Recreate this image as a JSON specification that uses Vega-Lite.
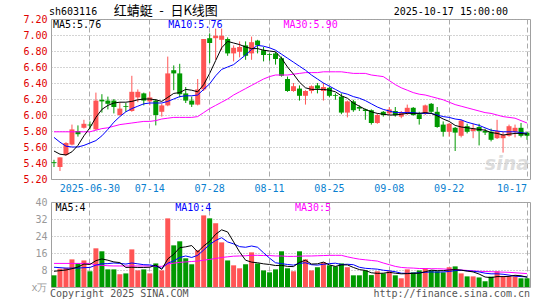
{
"$schema": "https://vega.github.io/schema/vega-lite/v6.json",
"background": "white",
"padding": {"left": 22, "top": 4, "right": 4, "bottom": 2},
"bounds": "flush",
"spacing": 23,
"config": {
  "view": {"stroke": "#a0a0a0", "strokeWidth": 1},
  "font": "DejaVu Sans Mono",
  "axis": {"labelFont": "DejaVu Sans Mono", "labelFontSize": 10, "ticks": false, "domain": false}
},
"datasets": {"k": [
{"d":"2025-06-20","o":5.41,"h":5.44,"l":5.35,"c":5.40,"v":5.5,"m5":5.55,"m10":5.72,"m30":5.79,"vm5":7.4,"vm10":9.3,"vm30":11.1},
{"d":"2025-06-23","o":5.35,"h":5.47,"l":5.30,"c":5.47,"v":8.6,"m5":5.51,"m10":5.66,"m30":5.79,"vm5":7.7,"vm10":9.1,"vm30":11.1},
{"d":"2025-06-24","o":5.50,"h":5.66,"l":5.49,"c":5.65,"v":9.0,"m5":5.50,"m10":5.61,"m30":5.79,"vm5":8.0,"vm10":8.9,"vm30":11.1},
{"d":"2025-06-25","o":5.63,"h":5.88,"l":5.62,"c":5.82,"v":13.0,"m5":5.54,"m10":5.60,"m30":5.79,"vm5":8.6,"vm10":8.9,"vm30":11.1},
{"d":"2025-06-26","o":5.80,"h":5.87,"l":5.73,"c":5.76,"v":11.1,"m5":5.62,"m10":5.60,"m30":5.79,"vm5":9.4,"vm10":8.9,"vm30":11.1},
{"d":"2025-06-27","o":5.84,"h":5.94,"l":5.83,"c":5.89,"v":12.5,"m5":5.74,"m10":5.62,"m30":5.79,"vm5":10.8,"vm10":9.1,"vm30":11.1},
{"d":"2025-06-30","o":5.88,"h":5.92,"l":5.82,"c":5.87,"v":7.4,"m5":5.84,"m10":5.65,"m30":5.79,"vm5":10.6,"vm10":9.2,"vm30":11.1},
{"d":"2025-07-01","o":5.82,"h":6.28,"l":5.81,"c":6.18,"v":18.2,"m5":5.97,"m10":5.68,"m30":5.81,"vm5":12.4,"vm10":10.3,"vm30":10.4},
{"d":"2025-07-02","o":6.19,"h":6.26,"l":6.03,"c":6.17,"v":16.8,"m5":6.07,"m10":5.74,"m30":5.83,"vm5":13.2,"vm10":10.9,"vm30":10.2},
{"d":"2025-07-03","o":6.18,"h":6.23,"l":6.07,"c":6.14,"v":8.3,"m5":6.12,"m10":5.82,"m30":5.84,"vm5":12.6,"vm10":11.0,"vm30":10.0},
{"d":"2025-07-04","o":6.18,"h":6.20,"l":6.02,"c":6.10,"v":8.3,"m5":6.15,"m10":5.91,"m30":5.86,"vm5":11.8,"vm10":11.3,"vm30":9.9},
{"d":"2025-07-07","o":6.00,"h":6.16,"l":5.99,"c":6.08,"v":6.0,"m5":6.16,"m10":5.98,"m30":5.88,"vm5":11.5,"vm10":11.1,"vm30":9.9},
{"d":"2025-07-08","o":6.11,"h":6.15,"l":6.04,"c":6.10,"v":6.4,"m5":6.16,"m10":6.04,"m30":5.89,"vm5":9.2,"vm10":10.8,"vm30":9.9},
{"d":"2025-07-09","o":6.05,"h":6.49,"l":6.04,"c":6.29,"v":17.7,"m5":6.17,"m10":6.08,"m30":5.90,"vm5":9.3,"vm10":11.3,"vm30":9.9},
{"d":"2025-07-10","o":6.22,"h":6.32,"l":6.16,"c":6.29,"v":7.8,"m5":6.19,"m10":6.11,"m30":5.91,"vm5":9.2,"vm10":10.9,"vm30":9.9},
{"d":"2025-07-11","o":6.27,"h":6.28,"l":6.12,"c":6.18,"v":8.3,"m5":6.20,"m10":6.14,"m30":5.92,"vm5":9.2,"vm10":10.5,"vm30":9.9},
{"d":"2025-07-14","o":6.17,"h":6.29,"l":6.12,"c":6.22,"v":6.4,"m5":6.20,"m10":6.15,"m30":5.92,"vm5":9.3,"vm10":10.4,"vm30":9.9},
{"d":"2025-07-15","o":6.18,"h":6.20,"l":5.87,"c":6.00,"v":11.1,"m5":6.19,"m10":6.15,"m30":5.93,"vm5":10.3,"vm10":9.8,"vm30":9.8},
{"d":"2025-07-16","o":6.04,"h":6.14,"l":5.98,"c":6.12,"v":7.8,"m5":6.17,"m10":6.15,"m30":5.95,"vm5":8.3,"vm10":8.8,"vm30":9.7},
{"d":"2025-07-17","o":6.12,"h":6.73,"l":6.11,"c":6.52,"v":32.3,"m5":6.22,"m10":6.17,"m30":5.96,"vm5":13.2,"vm10":11.2,"vm30":10.8},
{"d":"2025-07-18","o":6.56,"h":6.62,"l":6.31,"c":6.52,"v":19.6,"m5":6.27,"m10":6.20,"m30":5.97,"vm5":15.4,"vm10":12.3,"vm30":11.2},
{"d":"2025-07-21","o":6.52,"h":6.64,"l":6.22,"c":6.26,"v":21.5,"m5":6.28,"m10":6.23,"m30":5.97,"vm5":18.5,"vm10":13.9,"vm30":11.6},
{"d":"2025-07-22","o":6.27,"h":6.35,"l":6.15,"c":6.18,"v":13.5,"m5":6.32,"m10":6.24,"m30":5.97,"vm5":18.9,"vm10":14.6,"vm30":11.8},
{"d":"2025-07-23","o":6.18,"h":6.23,"l":6.10,"c":6.13,"v":10.7,"m5":6.31,"m10":6.24,"m30":5.97,"vm5":19.5,"vm10":13.9,"vm30":12.0},
{"d":"2025-07-24","o":6.13,"h":6.45,"l":6.12,"c":6.32,"v":17.3,"m5":6.29,"m10":6.25,"m30":5.98,"vm5":16.5,"vm10":14.9,"vm30":12.2},
{"d":"2025-07-25","o":6.32,"h":6.95,"l":6.30,"c":6.95,"v":33.7,"m5":6.38,"m10":6.32,"m30":6.03,"vm5":19.3,"vm10":17.4,"vm30":12.6},
{"d":"2025-07-28","o":6.96,"h":7.02,"l":6.65,"c":6.90,"v":32.3,"m5":6.52,"m10":6.39,"m30":6.08,"vm5":21.5,"vm10":20.0,"vm30":13.0},
{"d":"2025-07-29","o":6.96,"h":7.08,"l":6.69,"c":6.99,"v":30.0,"m5":6.68,"m10":6.49,"m30":6.12,"vm5":24.8,"vm10":21.9,"vm30":13.4},
{"d":"2025-07-30","o":6.94,"h":7.08,"l":6.81,"c":6.99,"v":21.0,"m5":6.84,"m10":6.57,"m30":6.16,"vm5":26.9,"vm10":23.2,"vm30":13.9},
{"d":"2025-07-31","o":6.95,"h":6.97,"l":6.74,"c":6.77,"v":12.5,"m5":6.92,"m10":6.60,"m30":6.20,"vm5":25.9,"vm10":21.2,"vm30":14.2},
{"d":"2025-08-01","o":6.77,"h":6.87,"l":6.67,"c":6.84,"v":10.2,"m5":6.90,"m10":6.63,"m30":6.25,"vm5":21.2,"vm10":20.3,"vm30":14.5},
{"d":"2025-08-04","o":6.79,"h":6.92,"l":6.72,"c":6.85,"v":8.8,"m5":6.88,"m10":6.69,"m30":6.29,"vm5":16.5,"vm10":19.0,"vm30":14.6},
{"d":"2025-08-05","o":6.87,"h":6.92,"l":6.69,"c":6.74,"v":10.7,"m5":6.85,"m10":6.75,"m30":6.33,"vm5":12.6,"vm10":18.7,"vm30":14.7},
{"d":"2025-08-06","o":6.77,"h":6.98,"l":6.69,"c":6.91,"v":16.3,"m5":6.83,"m10":6.82,"m30":6.37,"vm5":11.7,"vm10":19.3,"vm30":14.9},
{"d":"2025-08-07","o":6.93,"h":6.94,"l":6.77,"c":6.87,"v":11.1,"m5":6.83,"m10":6.87,"m30":6.41,"vm5":11.4,"vm10":18.7,"vm30":14.9},
{"d":"2025-08-08","o":6.81,"h":6.85,"l":6.67,"c":6.75,"v":7.8,"m5":6.81,"m10":6.86,"m30":6.45,"vm5":10.9,"vm10":16.1,"vm30":14.8},
{"d":"2025-08-11","o":6.76,"h":6.77,"l":6.68,"c":6.75,"v":6.9,"m5":6.80,"m10":6.84,"m30":6.48,"vm5":10.6,"vm10":13.6,"vm30":14.8},
{"d":"2025-08-12","o":6.77,"h":6.79,"l":6.63,"c":6.70,"v":8.3,"m5":6.79,"m10":6.81,"m30":6.50,"vm5":10.1,"vm10":11.4,"vm30":14.6},
{"d":"2025-08-13","o":6.71,"h":6.73,"l":6.48,"c":6.49,"v":16.8,"m5":6.71,"m10":6.76,"m30":6.50,"vm5":10.2,"vm10":11.0,"vm30":14.6},
{"d":"2025-08-14","o":6.45,"h":6.48,"l":6.29,"c":6.30,"v":8.8,"m5":6.60,"m10":6.71,"m30":6.50,"vm5":9.7,"vm10":10.6,"vm30":14.4},
{"d":"2025-08-15","o":6.30,"h":6.40,"l":6.29,"c":6.36,"v":7.4,"m5":6.51,"m10":6.66,"m30":6.51,"vm5":9.6,"vm10":10.3,"vm30":14.4},
{"d":"2025-08-18","o":6.33,"h":6.37,"l":6.18,"c":6.24,"v":16.8,"m5":6.41,"m10":6.61,"m30":6.52,"vm5":11.6,"vm10":11.1,"vm30":14.5},
{"d":"2025-08-19","o":6.24,"h":6.31,"l":6.13,"c":6.30,"v":13.0,"m5":6.34,"m10":6.56,"m30":6.53,"vm5":12.6,"vm10":11.4,"vm30":14.6},
{"d":"2025-08-20","o":6.30,"h":6.37,"l":6.27,"c":6.36,"v":7.8,"m5":6.32,"m10":6.50,"m30":6.53,"vm5":10.8,"vm10":10.5,"vm30":14.6},
{"d":"2025-08-21","o":6.37,"h":6.40,"l":6.27,"c":6.33,"v":9.3,"m5":6.32,"m10":6.45,"m30":6.53,"vm5":10.9,"vm10":10.3,"vm30":14.7},
{"d":"2025-08-22","o":6.30,"h":6.40,"l":6.18,"c":6.35,"v":11.6,"m5":6.32,"m10":6.40,"m30":6.54,"vm5":11.7,"vm10":10.7,"vm30":14.8},
{"d":"2025-08-25","o":6.34,"h":6.35,"l":6.22,"c":6.24,"v":10.2,"m5":6.31,"m10":6.36,"m30":6.54,"vm5":10.4,"vm10":11.0,"vm30":14.9},
{"d":"2025-08-26","o":6.25,"h":6.27,"l":6.19,"c":6.24,"v":9.7,"m5":6.29,"m10":6.32,"m30":6.54,"vm5":9.7,"vm10":11.2,"vm30":14.9},
{"d":"2025-08-27","o":6.23,"h":6.27,"l":6.01,"c":6.03,"v":11.1,"m5":6.24,"m10":6.28,"m30":6.54,"vm5":10.4,"vm10":10.6,"vm30":14.9},
{"d":"2025-08-28","o":6.03,"h":6.18,"l":5.97,"c":6.17,"v":9.3,"m5":6.21,"m10":6.26,"m30":6.53,"vm5":10.4,"vm10":10.7,"vm30":14.2},
{"d":"2025-08-29","o":6.17,"h":6.19,"l":6.04,"c":6.06,"v":5.5,"m5":6.15,"m10":6.23,"m30":6.52,"vm5":9.2,"vm10":10.5,"vm30":13.6},
{"d":"2025-09-01","o":6.10,"h":6.12,"l":6.05,"c":6.08,"v":5.5,"m5":6.11,"m10":6.21,"m30":6.52,"vm5":8.2,"vm10":9.3,"vm30":13.1},
{"d":"2025-09-02","o":6.07,"h":6.08,"l":5.94,"c":6.05,"v":7.8,"m5":6.07,"m10":6.18,"m30":6.52,"vm5":7.8,"vm10":8.8,"vm30":12.8},
{"d":"2025-09-03","o":6.06,"h":6.07,"l":5.88,"c":5.90,"v":5.6,"m5":6.04,"m10":6.14,"m30":6.50,"vm5":6.7,"vm10":8.6,"vm30":12.5},
{"d":"2025-09-04","o":5.90,"h":6.02,"l":5.89,"c":6.00,"v":7.4,"m5":6.02,"m10":6.10,"m30":6.49,"vm5":6.4,"vm10":8.4,"vm30":12.2},
{"d":"2025-09-05","o":6.04,"h":6.05,"l":5.98,"c":6.00,"v":6.4,"m5":6.01,"m10":6.07,"m30":6.48,"vm5":6.5,"vm10":7.9,"vm30":11.3},
{"d":"2025-09-08","o":6.02,"h":6.10,"l":6.00,"c":6.07,"v":7.4,"m5":6.00,"m10":6.05,"m30":6.43,"vm5":6.9,"vm10":7.6,"vm30":10.5},
{"d":"2025-09-09","o":6.05,"h":6.10,"l":5.98,"c":6.00,"v":5.5,"m5":6.00,"m10":6.03,"m30":6.38,"vm5":6.5,"vm10":7.2,"vm30":9.7},
{"d":"2025-09-10","o":5.98,"h":6.05,"l":5.96,"c":6.03,"v":4.1,"m5":6.01,"m10":6.03,"m30":6.34,"vm5":6.2,"vm10":6.5,"vm30":9.2},
{"d":"2025-09-11","o":6.02,"h":6.13,"l":6.00,"c":6.09,"v":8.3,"m5":6.02,"m10":6.03,"m30":6.31,"vm5":6.3,"vm10":6.4,"vm30":9.0},
{"d":"2025-09-12","o":6.09,"h":6.10,"l":5.99,"c":6.00,"v":6.9,"m5":6.02,"m10":6.03,"m30":6.28,"vm5":6.4,"vm10":6.5,"vm30":8.9},
{"d":"2025-09-15","o":6.01,"h":6.04,"l":5.88,"c":5.95,"v":7.8,"m5":6.02,"m10":6.02,"m30":6.26,"vm5":6.5,"vm10":6.7,"vm30":8.7},
{"d":"2025-09-16","o":6.02,"h":6.13,"l":6.00,"c":6.12,"v":8.8,"m5":6.03,"m10":6.02,"m30":6.25,"vm5":7.2,"vm10":6.9,"vm30":8.7},
{"d":"2025-09-17","o":6.14,"h":6.15,"l":6.02,"c":6.04,"v":7.8,"m5":6.02,"m10":6.02,"m30":6.23,"vm5":7.9,"vm10":7.1,"vm30":8.6},
{"d":"2025-09-18","o":6.04,"h":6.10,"l":5.84,"c":5.85,"v":7.4,"m5":5.99,"m10":6.00,"m30":6.21,"vm5":7.7,"vm10":7.0,"vm30":8.6},
{"d":"2025-09-19","o":5.88,"h":5.92,"l":5.73,"c":5.79,"v":6.9,"m5":5.95,"m10":5.98,"m30":6.19,"vm5":7.7,"vm10":7.1,"vm30":8.5},
{"d":"2025-09-22","o":5.79,"h":5.90,"l":5.73,"c":5.89,"v":9.3,"m5":5.92,"m10":5.97,"m30":6.16,"vm5":8.0,"vm10":7.3,"vm30":8.3},
{"d":"2025-09-23","o":5.84,"h":5.85,"l":5.55,"c":5.78,"v":9.7,"m5":5.87,"m10":5.95,"m30":6.13,"vm5":8.2,"vm10":7.7,"vm30":8.2},
{"d":"2025-09-24","o":5.74,"h":5.94,"l":5.72,"c":5.93,"v":6.4,"m5":5.85,"m10":5.94,"m30":6.11,"vm5":7.9,"vm10":7.9,"vm30":8.0},
{"d":"2025-09-25","o":5.86,"h":5.89,"l":5.77,"c":5.79,"v":5.0,"m5":5.84,"m10":5.91,"m30":6.09,"vm5":7.5,"vm10":7.6,"vm30":7.8},
{"d":"2025-09-26","o":5.80,"h":5.89,"l":5.71,"c":5.83,"v":5.0,"m5":5.83,"m10":5.89,"m30":6.07,"vm5":7.1,"vm10":7.4,"vm30":7.6},
{"d":"2025-09-29","o":5.85,"h":5.89,"l":5.62,"c":5.80,"v":4.5,"m5":5.82,"m10":5.87,"m30":6.05,"vm5":6.1,"vm10":7.1,"vm30":7.4},
{"d":"2025-09-30","o":5.80,"h":5.83,"l":5.75,"c":5.78,"v":2.7,"m5":5.81,"m10":5.84,"m30":6.03,"vm5":4.7,"vm10":6.5,"vm30":7.3},
{"d":"2025-10-09","o":5.79,"h":5.83,"l":5.67,"c":5.69,"v":4.9,"m5":5.78,"m10":5.81,"m30":6.02,"vm5":4.4,"vm10":6.2,"vm30":7.2},
{"d":"2025-10-10","o":5.71,"h":5.94,"l":5.70,"c":5.80,"v":7.4,"m5":5.77,"m10":5.80,"m30":6.00,"vm5":4.9,"vm10":6.2,"vm30":7.1},
{"d":"2025-10-13","o":5.71,"h":5.79,"l":5.53,"c":5.75,"v":5.0,"m5":5.75,"m10":5.79,"m30":5.98,"vm5":4.9,"vm10":6.0,"vm30":7.0},
{"d":"2025-10-14","o":5.74,"h":5.88,"l":5.73,"c":5.86,"v":5.0,"m5":5.76,"m10":5.79,"m30":5.97,"vm5":5.0,"vm10":5.6,"vm30":6.9},
{"d":"2025-10-15","o":5.79,"h":5.88,"l":5.72,"c":5.84,"v":5.0,"m5":5.77,"m10":5.79,"m30":5.96,"vm5":5.5,"vm10":5.1,"vm30":6.7},
{"d":"2025-10-16","o":5.84,"h":5.90,"l":5.72,"c":5.74,"v":4.1,"m5":5.77,"m10":5.78,"m30":5.93,"vm5":5.3,"vm10":4.9,"vm30":6.5},
{"d":"2025-10-17","o":5.78,"h":5.79,"l":5.69,"c":5.74,"v":4.1,"m5":5.76,"m10":5.77,"m30":5.90,"vm5":4.6,"vm10":4.8,"vm30":6.3}
]},
"vconcat": [
{
  "width": 479, "height": 160,
  "data": {"name": "k"},
  "encoding": {
    "x": {"field": "d", "type": "ordinal", "title": null,
      "scale": {"paddingInner": 0, "paddingOuter": 0},
      "axis": {"values": ["2025-06-30","2025-07-14","2025-07-28","2025-08-11","2025-08-25","2025-09-08","2025-09-22","2025-10-17"],
        "labelExpr": "datum.value == '2025-06-30' ? datum.value : substring(datum.value, 5)",
        "labelColor": "#0a7fd0", "labelPadding": 4, "labelAngle": 0,
        "labelAlign": {"condition": {"test": "datum.value == '2025-10-17'", "value": "right"}, "value": "center"},
        "grid": true, "gridColor": "#aaaaaa", "gridDash": [5, 3], "labelOverlap": false}}
  },
  "layer": [
    {"mark": {"type": "rule", "strokeWidth": 1},
     "encoding": {
       "y": {"field": "l", "type": "quantitative", "title": null,
         "scale": {"domain": [5.2, 7.2], "nice": false, "zero": false},
         "axis": {"values": [5.2,5.4,5.6,5.8,6.0,6.2,6.4,6.6,6.8,7.0,7.2], "format": ".2f", "labelColor": "#e00000", "labelPadding": 4, "grid": true, "gridColor": "#a8a8a8", "gridDash": [1, 2], "labelOverlap": false}},
       "y2": {"field": "h"},
       "color": {"condition": {"test": "datum.c >= datum.o", "value": "#ff5555"}, "value": "#009900"}
     }},
    {"mark": {"type": "bar", "size": 5},
     "encoding": {
       "y": {"field": "o", "type": "quantitative", "title": null,
         "axis": {"values": [5.2,5.4,5.6,5.8,6.0,6.2,6.4,6.6,6.8,7.0,7.2], "format": ".2f", "labelColor": "#e00000", "labelPadding": 4, "grid": true, "gridColor": "#a8a8a8", "gridDash": [1, 2], "labelOverlap": false}},
       "y2": {"field": "c"},
       "color": {"condition": {"test": "datum.c >= datum.o", "value": "#ff5555"}, "value": "#009900"}
     }},
    {"mark": {"type": "line", "strokeWidth": 1, "color": "#ff00ff"}, "encoding": {"y": {"field": "m30", "type": "quantitative", "title": null,
         "axis": {"values": [5.2,5.4,5.6,5.8,6.0,6.2,6.4,6.6,6.8,7.0,7.2], "format": ".2f", "labelColor": "#e00000", "labelPadding": 4, "grid": true, "gridColor": "#a8a8a8", "gridDash": [1, 2], "labelOverlap": false}}}},
    {"mark": {"type": "line", "strokeWidth": 1, "color": "#0000ff"}, "encoding": {"y": {"field": "m10", "type": "quantitative", "title": null,
         "axis": {"values": [5.2,5.4,5.6,5.8,6.0,6.2,6.4,6.6,6.8,7.0,7.2], "format": ".2f", "labelColor": "#e00000", "labelPadding": 4, "grid": true, "gridColor": "#a8a8a8", "gridDash": [1, 2], "labelOverlap": false}}}},
    {"mark": {"type": "line", "strokeWidth": 1, "color": "#000000"}, "encoding": {"y": {"field": "m5", "type": "quantitative", "title": null,
         "axis": {"values": [5.2,5.4,5.6,5.8,6.0,6.2,6.4,6.6,6.8,7.0,7.2], "format": ".2f", "labelColor": "#e00000", "labelPadding": 4, "grid": true, "gridColor": "#a8a8a8", "gridDash": [1, 2], "labelOverlap": false}}}},
    {"data": {"values": [{"t": "sina", "y": 5.4, "d": "2025-10-17"}]},
     "mark": {"type": "text", "font": "DejaVu Sans", "fontSize": 19, "fontStyle": "italic", "fontWeight": "bold", "color": "#c8c8c8", "opacity": 0.6, "align": "right", "baseline": "middle", "dx": 2, "dy": 1},
     "encoding": {"text": {"field": "t"}, "x": {"field": "d", "type": "ordinal"}, "y": {"field": "y", "type": "quantitative", "title": null,
         "axis": {"values": [5.2,5.4,5.6,5.8,6.0,6.2,6.4,6.6,6.8,7.0,7.2], "format": ".2f", "labelColor": "#e00000", "labelPadding": 4, "grid": true, "gridColor": "#a8a8a8", "gridDash": [1, 2], "labelOverlap": false}}}},
    {"data": {"values": [{"t": "sh603116", "y": 7.2, "d": "2025-06-20"}]},
     "mark": {"type": "text", "fontSize": 10, "color": "#000000", "align": "left", "baseline": "middle", "dx": -5, "dy": -7},
     "encoding": {"text": {"field": "t"}, "x": {"field": "d", "type": "ordinal"}, "y": {"field": "y", "type": "quantitative", "title": null,
         "axis": {"values": [5.2,5.4,5.6,5.8,6.0,6.2,6.4,6.6,6.8,7.0,7.2], "format": ".2f", "labelColor": "#e00000", "labelPadding": 4, "grid": true, "gridColor": "#a8a8a8", "gridDash": [1, 2], "labelOverlap": false}}}},
    {"data": {"values": [{"t": "红蜻蜓\u2002-\u2002日K线图", "y": 7.2, "d": "2025-07-04"}]},
     "mark": {"type": "text", "font": "Noto Sans CJK SC", "fontSize": 13, "color": "#000000", "align": "left", "baseline": "middle", "dx": 0, "dy": -8.5},
     "encoding": {"text": {"field": "t"}, "x": {"field": "d", "type": "ordinal"}, "y": {"field": "y", "type": "quantitative", "title": null,
         "axis": {"values": [5.2,5.4,5.6,5.8,6.0,6.2,6.4,6.6,6.8,7.0,7.2], "format": ".2f", "labelColor": "#e00000", "labelPadding": 4, "grid": true, "gridColor": "#a8a8a8", "gridDash": [1, 2], "labelOverlap": false}}}},
    {"data": {"values": [{"t": "2025-10-17 15:00:00", "y": 7.2, "d": "2025-10-14"}]},
     "mark": {"type": "text", "fontSize": 10, "color": "#000000", "align": "right", "baseline": "middle", "dx": -1, "dy": -7},
     "encoding": {"text": {"field": "t"}, "x": {"field": "d", "type": "ordinal"}, "y": {"field": "y", "type": "quantitative", "title": null,
         "axis": {"values": [5.2,5.4,5.6,5.8,6.0,6.2,6.4,6.6,6.8,7.0,7.2], "format": ".2f", "labelColor": "#e00000", "labelPadding": 4, "grid": true, "gridColor": "#a8a8a8", "gridDash": [1, 2], "labelOverlap": false}}}},
    {"data": {"values": [{"t": "MA5:5.76", "y": 7.2, "d": "2025-06-20"}]},
     "mark": {"type": "text", "fontSize": 10, "color": "#000000", "align": "left", "baseline": "middle", "dx": -1, "dy": 6},
     "encoding": {"text": {"field": "t"}, "x": {"field": "d", "type": "ordinal"}, "y": {"field": "y", "type": "quantitative", "title": null,
         "axis": {"values": [5.2,5.4,5.6,5.8,6.0,6.2,6.4,6.6,6.8,7.0,7.2], "format": ".2f", "labelColor": "#e00000", "labelPadding": 4, "grid": true, "gridColor": "#a8a8a8", "gridDash": [1, 2], "labelOverlap": false}}}},
    {"data": {"values": [{"t": "MA10:5.76", "y": 7.2, "d": "2025-07-17"}]},
     "mark": {"type": "text", "fontSize": 10, "color": "#0000ff", "align": "left", "baseline": "middle", "dx": 0.5, "dy": 6},
     "encoding": {"text": {"field": "t"}, "x": {"field": "d", "type": "ordinal"}, "y": {"field": "y", "type": "quantitative", "title": null,
         "axis": {"values": [5.2,5.4,5.6,5.8,6.0,6.2,6.4,6.6,6.8,7.0,7.2], "format": ".2f", "labelColor": "#e00000", "labelPadding": 4, "grid": true, "gridColor": "#a8a8a8", "gridDash": [1, 2], "labelOverlap": false}}}},
    {"data": {"values": [{"t": "MA30:5.90", "y": 7.2, "d": "2025-08-13"}]},
     "mark": {"type": "text", "fontSize": 10, "color": "#ff00ff", "align": "left", "baseline": "middle", "dx": 2, "dy": 6},
     "encoding": {"text": {"field": "t"}, "x": {"field": "d", "type": "ordinal"}, "y": {"field": "y", "type": "quantitative", "title": null,
         "axis": {"values": [5.2,5.4,5.6,5.8,6.0,6.2,6.4,6.6,6.8,7.0,7.2], "format": ".2f", "labelColor": "#e00000", "labelPadding": 4, "grid": true, "gridColor": "#a8a8a8", "gridDash": [1, 2], "labelOverlap": false}}}}
  ]
},
{
  "width": 479, "height": 85,
  "data": {"name": "k"},
  "encoding": {
    "x": {"field": "d", "type": "ordinal", "title": null,
      "scale": {"paddingInner": 0, "paddingOuter": 0},
      "axis": {"values": ["2025-06-30","2025-07-14","2025-07-28","2025-08-11","2025-08-25","2025-09-08","2025-09-22","2025-10-17"],
        "labels": false, "grid": true, "gridColor": "#aaaaaa", "gridDash": [5, 3]}}
  },
  "layer": [
    {"mark": {"type": "bar", "size": 5},
     "encoding": {
       "y": {"field": "v", "type": "quantitative", "title": null,
         "scale": {"domain": [0, 40], "nice": false},
         "axis": {"values": [0, 8, 16, 24, 32, 40], "labelExpr": "datum.value == 0 ? 'x万' : datum.label", "labelColor": "#999999", "labelPadding": 4, "grid": true, "gridColor": "#a8a8a8", "gridDash": [1, 2], "labelOverlap": false}},
       "color": {"condition": {"test": "datum.c >= datum.o", "value": "#ff5555"}, "value": "#009900"}
     }},
    {"mark": {"type": "line", "strokeWidth": 1, "color": "#ff00ff"}, "encoding": {"y": {"field": "vm30", "type": "quantitative", "title": null,
         "axis": {"values": [0, 8, 16, 24, 32, 40], "labelExpr": "datum.value == 0 ? 'x万' : datum.label", "labelColor": "#999999", "labelPadding": 4, "grid": true, "gridColor": "#a8a8a8", "gridDash": [1, 2], "labelOverlap": false}}}},
    {"mark": {"type": "line", "strokeWidth": 1, "color": "#0000ff"}, "encoding": {"y": {"field": "vm10", "type": "quantitative", "title": null,
         "axis": {"values": [0, 8, 16, 24, 32, 40], "labelExpr": "datum.value == 0 ? 'x万' : datum.label", "labelColor": "#999999", "labelPadding": 4, "grid": true, "gridColor": "#a8a8a8", "gridDash": [1, 2], "labelOverlap": false}}}},
    {"mark": {"type": "line", "strokeWidth": 1, "color": "#000000"}, "encoding": {"y": {"field": "vm5", "type": "quantitative", "title": null,
         "axis": {"values": [0, 8, 16, 24, 32, 40], "labelExpr": "datum.value == 0 ? 'x万' : datum.label", "labelColor": "#999999", "labelPadding": 4, "grid": true, "gridColor": "#a8a8a8", "gridDash": [1, 2], "labelOverlap": false}}}},
    {"data": {"values": [
       {"t": "MA5:4", "y": 40, "d": "2025-06-20", "k": "a"},
       {"t": "MA10:4", "y": 40, "d": "2025-07-18", "k": "b"},
       {"t": "MA30:5", "y": 40, "d": "2025-08-15", "k": "c"}]},
     "mark": {"type": "text", "fontSize": 10, "align": "left", "baseline": "middle", "dx": 1.5, "dy": 6},
     "encoding": {"text": {"field": "t"}, "x": {"field": "d", "type": "ordinal"},
       "color": {"field": "k", "type": "nominal", "scale": {"domain": ["a", "b", "c"], "range": ["#000000", "#0000ff", "#ff00ff"]}, "legend": null},
       "y": {"field": "y", "type": "quantitative", "title": null,
         "axis": {"values": [0, 8, 16, 24, 32, 40], "labelExpr": "datum.value == 0 ? 'x万' : datum.label", "labelColor": "#999999", "labelPadding": 4, "grid": true, "gridColor": "#a8a8a8", "gridDash": [1, 2], "labelOverlap": false}}}},
    {"data": {"values": [{"t": "Copyright 2025 SINA.COM", "y": 0, "d": "2025-06-20"}]},
     "mark": {"type": "text", "fontSize": 10, "color": "#555555", "align": "left", "baseline": "middle", "dx": -4, "dy": 7},
     "encoding": {"text": {"field": "t"}, "x": {"field": "d", "type": "ordinal"}, "y": {"field": "y", "type": "quantitative", "title": null,
         "axis": {"values": [0, 8, 16, 24, 32, 40], "labelExpr": "datum.value == 0 ? 'x万' : datum.label", "labelColor": "#999999", "labelPadding": 4, "grid": true, "gridColor": "#a8a8a8", "gridDash": [1, 2], "labelOverlap": false}}}},
    {"data": {"values": [{"t": "http://finance.sina.com.cn", "y": 0, "d": "2025-10-17"}]},
     "mark": {"type": "text", "fontSize": 10, "color": "#555555", "align": "right", "baseline": "middle", "dx": 3, "dy": 7},
     "encoding": {"text": {"field": "t"}, "x": {"field": "d", "type": "ordinal"}, "y": {"field": "y", "type": "quantitative", "title": null,
         "axis": {"values": [0, 8, 16, 24, 32, 40], "labelExpr": "datum.value == 0 ? 'x万' : datum.label", "labelColor": "#999999", "labelPadding": 4, "grid": true, "gridColor": "#a8a8a8", "gridDash": [1, 2], "labelOverlap": false}}}}
  ]
}
]
}
